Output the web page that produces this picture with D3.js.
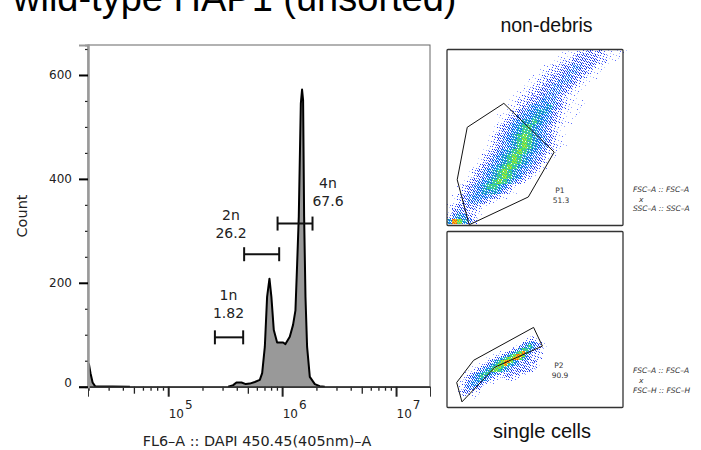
<!DOCTYPE html>
<html>
<head>
<meta charset="utf-8">
<script src="https://cdn.jsdelivr.net/npm/d3@7"></script>
<style>
  html, body { margin: 0; padding: 0; background: #fff; }
  svg { display: block; }
</style>
</head>
<body>
<div id="chart"></div>
<script>
// histogram, null = nothing drawn in that stretch
const dapiValues = [20100, 20800, 21700, 22800, 46100, 100000, 336000, 372000, 397000, 440000, 480000, 520000, 575000, 637000, 668000, 705000, 738000, 774000, 805000, 845000, 904000, 1021000, 1069000, 1167000, 1247000, 1309000, 1355000, 1400000, 1459000, 1496000, 1528000, 1560000, 1603000, 1656000, 1750000, 1936000, 2138000, 2366000];
const dapiCounts = [45, 26, 8, 1, 0, null, 0, 3, 8, 8, 5, 6, 9, 13, 26, 77, 173, 208, 173, 109, 85, 85, 82, 96, 119, 147, 237, 327, 545, 572, 551, 327, 173, 77, 19, 5, 1, 0];

const gateNames = ["1n", "2n", "4n"];
const gatePercents = ["1.82", "26.2", "67.6"];
const gateFrom = [257000, 464000, 912000];
const gateTo = [455000, 942000, 1848000];
const gateCount = [95, 255, 314];

const countMajor = [0, 200, 400, 600];
const countMinor = [50, 100, 150, 250, 300, 350, 450, 500, 550, 650];
const dapiMajor = [1e5, 1e6, 1e7];
const dapiMedium = [5e4, 5e5, 5e6];
const dapiMinor = [2e4, 3e4, 4e4, 6e4, 7e4, 8e4, 9e4, 2e5, 3e5, 4e5, 6e5, 7e5, 8e5, 9e5, 2e6, 3e6, 4e6, 6e6, 7e6, 8e6, 9e6];

// scatter panels: density level per cell, estimated by eye (row = list index)
const debrisStart = [23, 22, 21, 19, 18, 17, 16, 15, 14, 13, 12, 12, 11, 10, 10, 9, 9, 8, 8, 8, 7, 6, 6, 5, 4, 4, 3, 2, 2, 1, 1, 0, 0, 0, 0];
const debrisLevels = [
  "1112232321111", "1112333322111", "1122333332211", "1122334433211",
  "1122334433211", "1122334433211", "1122334443211", "1122334433211",
  "1122334443211", "11223344432110", "1122334544321101", "112345556432101",
  "1123455665321101", "1123455665432101", "123456676543211", "123456776543211",
  "12345677654321", "1234567876543211", "123456787654321", "1234567876543211",
  "123456787654321", "1234567876543211", "12345678765432", "123456787654321",
  "123456787654321", "12345678765321", "1234567876432", "123456776531",
  "123456665321", "12345554321", "123444321", "12333321",
  "1343221", "2465321", "6986421"
];
const gatePolyDebrisU = [32.3, 60.9, 46.2, 12.6, 5.8, 11.5];
const gatePolyDebrisV = [69.4, 41.7, 16.2, 0.4, 26, 55.8];

const singletFirstRow = 35;
const singletStart = [26, 25, 23, 22, 20, 17, 15, 13, 10, 9, 8, 7, 5, 4, 4, 3, 4, 4, 3, 4, 5];
const singletLevels = [
  "1121", "122321", "1134654321", "113467643211",
  "1234677643211", "112346789753322", "11234678998532221", "1123467889986532222",
  "11123467899865333233", "1112346788976543333221", "1123456788765433333322", "11234567887654333333321",
  "112345677654322333322110", "1123456765432123322211", "11234566543211012211", "1123455543211",
  "124455431", "12344331", "12333211", "1222111", "11111"
];
const gatePolySingletU = [49.2, 54.2, 27.4, 8.5, 5.5, 15.1];
const gatePolySingletV = [45.5, 34.9, 23, 3.2, 14.2, 26.8];

const levelFill = [0, 0.08, 0.2, 0.35, 0.5, 0.65, 0.8, 0.9, 0.97, 1];
const levelColors = [
  [],
  ["#6070ff", "#9aa8ff", "#c0d0ff"],
  ["#2038f0", "#4058ff", "#8090ff"],
  ["#1030e0", "#2038f0", "#5068ff"],
  ["#2038f0", "#1868f0", "#30a8f0"],
  ["#1c50f0", "#1c70f0", "#28b8f0"],
  ["#1c50f0", "#28b0f0", "#30d8a0"],
  ["#28a0f0", "#30d8a0", "#60e040"],
  ["#30d8a0", "#60e040", "#c8e428"],
  ["#e8d820", "#ff9a10", "#f06010"]
];

const WIDTH = 701, HEIGHT = 450;

const svg = d3.select("#chart").append("svg")
  .attr("width", WIDTH).attr("height", HEIGHT)
  .style("font-family", "'DejaVu Sans', sans-serif");

svg.append("text")
  .attr("x", 13).attr("y", 11)
  .style("font-family", "'Liberation Sans', sans-serif")
  .style("font-size", "38px")
  .text("wild-type HAP1 (unsorted)");

/* ---------- histogram ---------- */
const x = d3.scaleLog().domain([19770, 1.986e7]).range([88, 430]);
const y = d3.scaleLinear().domain([0, 657.7]).range([386.7, 45]);

const histData = dapiValues.map((v, i) => ({ v, c: dapiCounts[i] }));

svg.append("path")
  .datum(histData)
  .attr("fill", "#999")
  .attr("d", d3.area().defined((d) => d.c !== null)
    .x((d) => x(d.v)).y0(y(0)).y1((d) => y(d.c)));

svg.append("rect")
  .attr("x", x.range()[0]).attr("y", y.range()[1])
  .attr("width", x.range()[1] - x.range()[0])
  .attr("height", y.range()[0] - y.range()[1])
  .attr("fill", "none").attr("stroke", "#666").attr("stroke-width", 1);

svg.append("path")
  .datum(histData)
  .attr("fill", "none").attr("stroke", "#000").attr("stroke-width", 2)
  .attr("stroke-linejoin", "round")
  .attr("d", d3.line().defined((d) => d.c !== null)
    .x((d) => x(d.v)).y((d) => y(d.c)));

// x axis
const xAxisG = svg.append("g").attr("transform", `translate(0,${y(0)})`);
xAxisG.append("g").call(d3.axisBottom(x).tickValues(dapiMinor).tickSize(4).tickFormat(""));
xAxisG.append("g").call(d3.axisBottom(x).tickValues(dapiMedium).tickSize(7).tickFormat(""));
const xMajor = xAxisG.append("g").call(d3.axisBottom(x).tickValues(dapiMajor).tickSize(10).tickFormat(""));
xAxisG.selectAll(".domain").attr("stroke", "#333");
xAxisG.selectAll(".tick line").attr("stroke", "#222").attr("stroke-width", 1.3);
xMajor.selectAll(".tick line").attr("stroke-width", 2);
xMajor.selectAll(".tick text")
  .attr("y", 31).attr("dy", 0).attr("text-anchor", "start").attr("x", 0)
  .style("font-size", "12px").style("font-family", "'DejaVu Sans', sans-serif").attr("fill", "#222")
  .each(function (d) {
    const t = d3.select(this);
    t.append("tspan").text("10");
    t.append("tspan").attr("dx", 1).attr("dy", -9).text(Math.round(Math.log10(d)));
  });

// y axis
const yAxisG = svg.append("g").attr("transform", `translate(${x.range()[0]},0)`);
yAxisG.append("g").call(d3.axisLeft(y).tickValues(countMinor).tickSize(3).tickFormat(""));
const yMajor = yAxisG.append("g").call(d3.axisLeft(y).tickValues(countMajor).tickSize(9).tickPadding(7));
yAxisG.selectAll(".domain").attr("stroke", "#999").attr("stroke-width", 2);
yAxisG.selectAll(".tick line").attr("stroke", "#222").attr("stroke-width", 1.2);
yMajor.selectAll(".tick line").attr("stroke", "#000").attr("stroke-width", 2);
yMajor.selectAll(".tick text")
  .style("font-size", "12px").style("font-family", "'DejaVu Sans', sans-serif").attr("fill", "#222");
yMajor.selectAll(".tick text").filter((d) => d === 0).attr("dy", "0");

svg.append("text")
  .attr("x", 257).attr("y", 446)
  .attr("text-anchor", "middle")
  .style("font-size", "14.4px").attr("fill", "#222")
  .text("FL6–A :: DAPI 450.45(405nm)–A");

svg.append("text")
  .attr("transform", "translate(27,216) rotate(-90)")
  .attr("text-anchor", "middle")
  .style("font-size", "14.5px").attr("fill", "#222")
  .text("Count");

// range gates
const gateLabelX = [228.5, 231, 328];
const gateLabelY = [300, 220, 187.7];
gateNames.forEach((name, i) => {
  const g = svg.append("g").attr("stroke", "#111").attr("stroke-width", 2).attr("fill", "none");
  const gy = y(gateCount[i]);
  g.append("line").attr("x1", x(gateFrom[i])).attr("x2", x(gateTo[i])).attr("y1", gy).attr("y2", gy);
  [gateFrom[i], gateTo[i]].forEach((v) => {
    g.append("line").attr("x1", x(v)).attr("x2", x(v)).attr("y1", gy - 7).attr("y2", gy + 7);
  });
  svg.append("text").attr("x", gateLabelX[i]).attr("y", gateLabelY[i])
    .attr("text-anchor", "middle").style("font-size", "14px").attr("fill", "#222").text(name);
  svg.append("text").attr("x", gateLabelX[i]).attr("y", gateLabelY[i] + 18)
    .attr("text-anchor", "middle").style("font-size", "14px").attr("fill", "#222").text(gatePercents[i]);
});

/* ---------- scatter panels ---------- */
const defs = svg.append("defs");
defs.append("filter").attr("id", "soft")
  .append("feGaussianBlur").attr("stdDeviation", 0.3);

function drawScatter(top, cell, firstRow, starts, levels, polyU, polyV) {
  const size = 176;
  const left = 447;
  const panel = svg.append("g");

  const colX = d3.scaleLinear().domain([0, size / cell]).range([left, left + size]);
  const rowY = d3.scaleLinear().domain([0, size / cell]).range([top, top + size]);
  const u = d3.scaleLinear().domain([0, 100]).range([left, left + size]);
  const v = d3.scaleLinear().domain([0, 100]).range([top + size, top]);

  const dots = panel.append("g").attr("filter", "url(#soft)");
  levels.forEach((row, r) => {
    Array.from(row).forEach((ch, k) => {
      const level = +ch;
      if (!level) return;
      const c = starts[r] + k;
      const rr = firstRow + r;
      for (let j = 0; j < cell; j++) {
        for (let i = 0; i < cell; i++) {
          const px = colX(c) + i;
          const py = Math.floor(rowY(rr)) + j;
          // gradient dither so a cell shows its level as a speckle of pixels
          const t = (52.9829189 * ((0.06711056 * px + 0.00583715 * py) % 1)) % 1;
          const fill = levelFill[level];
          if (t >= fill) continue;
          dots.append("rect")
            .attr("x", px).attr("y", py).attr("width", 1).attr("height", 1)
            .attr("fill", levelColors[level][Math.floor((t / fill) * 3)]);
        }
      }
    });
  });

  panel.append("polygon")
    .attr("points", polyU.map((d, i) => [u(d), v(polyV[i])].join(",")).join(" "))
    .attr("fill", "none").attr("stroke", "#111").attr("stroke-width", 1);

  panel.append("rect")
    .attr("x", left).attr("y", top).attr("width", size).attr("height", size)
    .attr("rx", 1).attr("fill", "none").attr("stroke", "#333").attr("stroke-width", 1.3);
}

drawScatter(49.5, 5, 0, debrisStart, debrisLevels, gatePolyDebrisU, gatePolyDebrisV);
drawScatter(231.5, 3, singletFirstRow, singletStart, singletLevels, gatePolySingletU, gatePolySingletV);

function smallText(tx, ty, str, italic) {
  svg.append("text").attr("x", tx).attr("y", ty)
    .attr("text-anchor", italic ? "start" : "middle")
    .style("font-size", "7.5px")
    .style("font-style", italic ? "italic" : "normal")
    .attr("fill", "#333")
    .text(str);
}
smallText(560, 192.7, "P1");
smallText(561, 202.7, "51.3");
smallText(559, 368, "P2");
smallText(560, 378, "90.9");
smallText(633, 192, "FSC–A :: FSC–A", true);
smallText(639, 201.5, "x", true);
smallText(633, 211, "SSC–A :: SSC–A", true);
smallText(633, 373, "FSC–A :: FSC–A", true);
smallText(639, 382.5, "x", true);
smallText(633, 393, "FSC–H :: FSC–H", true);

svg.append("text").attr("x", 546.5).attr("y", 31.5).attr("text-anchor", "middle")
  .style("font-family", "'Liberation Sans', sans-serif")
  .style("font-size", "19.5px").attr("fill", "#111").text("non-debris");
svg.append("text").attr("x", 542).attr("y", 438).attr("text-anchor", "middle")
  .style("font-family", "'Liberation Sans', sans-serif")
  .style("font-size", "20px").attr("fill", "#111").text("single cells");
</script>
</body>
</html>
